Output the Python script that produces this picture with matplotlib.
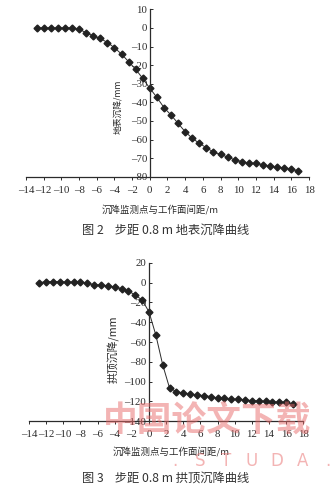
import numpy as np
import matplotlib.pyplot as plt

plt.rcParams['font.family'] = ['Liberation Serif', 'Noto Sans CJK SC']
plt.rcParams['axes.unicode_minus'] = False

# distance of monitoring point to working face, m (step 0.8 m)
dist = np.round(np.arange(-12.8, 16.81, 0.8), 1)

surface = np.array([
    0, 0, 0, 0, 0, 0, -0.7, -2.5, -4.2, -5.6,
    -7.8, -10.6, -14.0, -18.1, -22.2, -27.1, -32.4, -37.3, -42.8, -46.8,
    -51.3, -55.8, -59.3, -62.0, -64.4, -66.7, -68.0, -69.4, -70.9, -71.8,
    -72.8, -72.8, -73.5, -74.4, -75.0, -75.1, -75.9, -76.8
])

crown = np.array([
    0, 1.0, 1.0, 1.0, 0.5, 0.5, 0.5, -0.5, -2.0, -2.5,
    -3.0, -4.5, -6.0, -8.5, -12.5, -17.5, -29.5, -53.0, -83.0, -106.5,
    -110.0, -111.5, -112.4, -113.5, -114.0, -115.0, -116.5, -116.7, -117.8, -117.8,
    -118.5, -119.0, -119.5, -120.0, -120.5, -120.6, -120.6, -122.7
])

xticks = np.arange(-14, 19, 2)
ink = '#2b2b2b'
cjk = ['Noto Sans CJK SC', 'DejaVu Sans']

fig = plt.figure(figsize=(3.33, 4.92), dpi=100)


def style(ax, ylim, yticks):
    ax.set_xlim(-14, 18)
    ax.set_ylim(*ylim)
    ax.set_xticks(xticks)
    ax.set_yticks(yticks)
    ax.spines['top'].set_visible(False)
    ax.spines['right'].set_visible(False)
    ax.spines['left'].set_position(('data', 0))
    for s in ('left', 'bottom'):
        ax.spines[s].set_color(ink)
        ax.spines[s].set_linewidth(0.9)
    ax.tick_params(axis='x', direction='out', length=2.5, width=0.7,
                   labelsize=7.8, pad=4, colors=ink)
    ax.tick_params(axis='y', direction='in', length=2.5, width=0.7,
                   labelsize=7.8, pad=2, colors=ink)
    ax.set_xticklabels([str(t).replace('-', '–') for t in xticks])
    ax.set_yticklabels([str(t).replace('-', '–') for t in yticks])
    ax.patch.set_alpha(0)


# top: surface settlement
ax1 = fig.add_axes([0.078, 0.6407, 0.85, 0.3402])
ax1.plot(dist, surface, color=ink, lw=0.7, marker='D', ms=3.5,
         mfc='#222222', mec='#222222')
style(ax1, (-80, 10), np.arange(10, -81, -10))

# bottom: crown settlement
ax2 = fig.add_axes([0.0871, 0.1437, 0.8237, 0.322])
ax2.plot(dist, crown, color=ink, lw=0.7, marker='D', ms=3.5,
         mfc='#222222', mec='#222222')
style(ax2, (-140, 20), np.arange(20, -141, -20))

# axis labels and captions
fig.text(118 / 333, 1 - 107 / 492, '地表沉降/mm', rotation=90, ha='center',
         va='center', fontsize=6.3, color=ink, family=cjk)
fig.text(160 / 333, 1 - 210 / 492, '沉降监测点与工作面间距/m', ha='center',
         va='center', fontsize=6.8, color=ink, family=cjk)
fig.text(166 / 333, 1 - 230 / 492, '图 2    步距 0.8 m 地表沉降曲线', ha='center',
         va='center', fontsize=8.8, color='#333333', family=cjk)

fig.text(114 / 333, 1 - 349 / 492, '拱顶沉降/mm', rotation=90, ha='center',
         va='center', fontsize=7.8, color=ink, family=cjk)
fig.text(171 / 333, 1 - 452 / 492, '沉降监测点与工作面间距/m', ha='center',
         va='center', fontsize=6.8, color=ink, family=cjk)
fig.text(166 / 333, 1 - 478 / 492, '图 3    步距 0.8 m 拱顶沉降曲线', ha='center',
         va='center', fontsize=8.8, color='#333333', family=cjk)

# watermark
fig.text(103 / 333, 1 - 420 / 492, '中国论文下载', ha='left', va='center',
         fontsize=25, color='#e86a6a', alpha=0.5, fontweight='bold',
         family=cjk, zorder=10)
for i, ch in enumerate('.STUDA.'):
    fig.text((175 + 25.5 * i) / 333, 1 - 461 / 492, ch, ha='center',
             va='center', fontsize=12, color='#e86a6a', alpha=0.5,
             family='DejaVu Sans', zorder=10)

fig.savefig('out.png', dpi=100)
